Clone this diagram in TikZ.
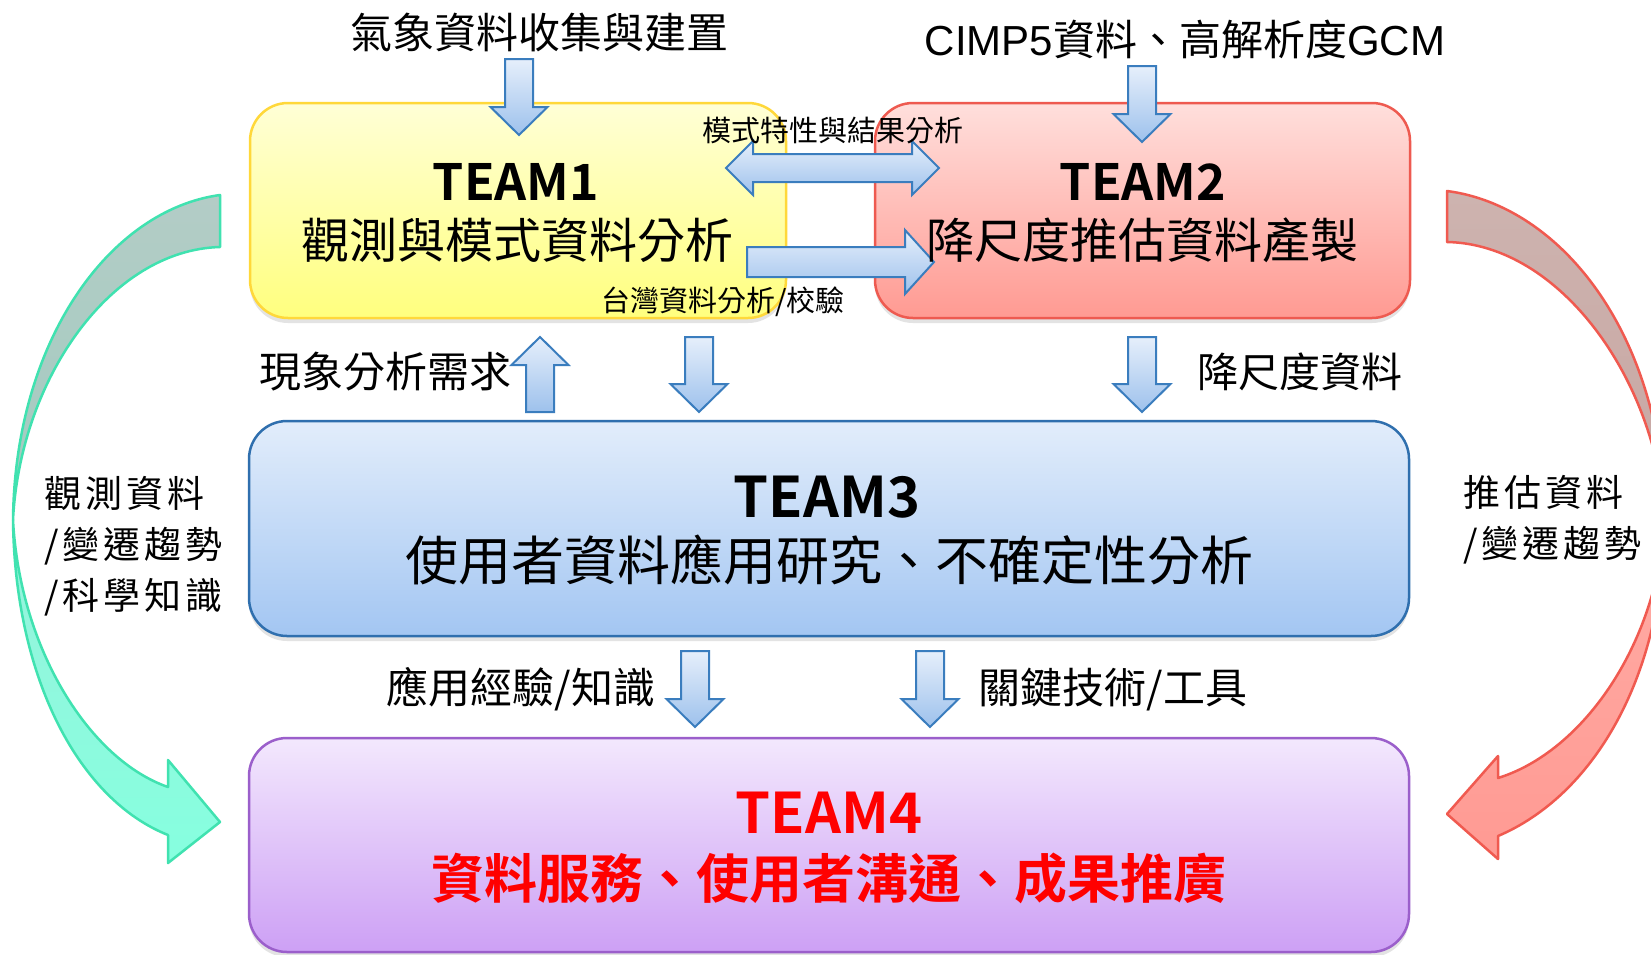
\documentclass[tikz,border=0pt]{standalone}
\usepackage{fontspec}
\setmainfont{Noto Sans CJK TC}[BoldFont={Noto Sans CJK TC Bold}]
\newfontfamily\arialf{Liberation Sans}
\newfontfamily\spacedf{Noto Sans CJK TC}[LetterSpace=11]
\usetikzlibrary{shadows}
\newcommand\myfs[1]{\fontsize{#1}{#1}\selectfont}
\definecolor{yT}{HTML}{FFFFD6}
\definecolor{yD}{HTML}{FFFF7E}
\definecolor{yB}{HTML}{FFD83A}
\definecolor{rT}{HTML}{FFDFDC}
\definecolor{rD}{HTML}{FF9A92}
\definecolor{rB}{HTML}{EE5A50}
\definecolor{bT}{HTML}{E2EDFB}
\definecolor{bD}{HTML}{A3C6F2}
\definecolor{bB}{HTML}{2F6FAE}
\definecolor{pT}{HTML}{F3E8FD}
\definecolor{pD}{HTML}{CDA0F5}
\definecolor{pB}{HTML}{9B5FCB}
\definecolor{aT}{HTML}{E6EFFB}
\definecolor{aD}{HTML}{9DC1EC}
\definecolor{aB}{HTML}{3A7DBE}
\definecolor{tB}{HTML}{40E2B0}
\definecolor{tDT}{HTML}{B3CCC6}
\definecolor{tDB}{HTML}{A2CBC0}
\definecolor{tLT}{HTML}{98F2DC}
\definecolor{tLB}{HTML}{86FFDF}
\definecolor{cB}{HTML}{F05A50}
\definecolor{cDT}{HTML}{CDB3AF}
\definecolor{cDB}{HTML}{C8A6A2}
\definecolor{cLT}{HTML}{FFACA5}
\definecolor{cLB}{HTML}{FF9A93}
\newcommand\blkdown[3]{%
  \path[blk] ({#1-14},{-#2}) -- ({#1+14},{-#2}) -- ({#1+14},{-(#3-28)}) -- ({#1+28.5},{-(#3-28)}) -- (#1,{-#3}) -- ({#1-28.5},{-(#3-28)}) -- ({#1-14},{-(#3-28)}) -- cycle;}
\newcommand\blkup[3]{%
  \path[blk] (#1,{-#2}) -- ({#1+28.5},{-(#2+28)}) -- ({#1+14},{-(#2+28)}) -- ({#1+14},{-#3}) -- ({#1-14},{-#3}) -- ({#1-14},{-(#2+28)}) -- ({#1-28.5},{-(#2+28)}) -- cycle;}
\begin{document}
\begin{tikzpicture}[x=1pt,y=1pt,
  team/.style={rounded corners=38pt, line width=2.5pt, inner sep=0pt,
    drop shadow={opacity=0.22,shadow xshift=0pt,shadow yshift=-5pt}},
  blk/.style={draw=aB, line width=2pt, top color=aT, bottom color=aD, line join=miter},
  curv/.style={line width=2.5pt, line join=round},
  lbl/.style={inner sep=0pt, text=black},
  side/.style={inner sep=0pt, text=black, align=left, anchor=west, font={\spacedf\fontsize{37}{51}\selectfont}},
]
\useasboundingbox (0,0) rectangle (1651,-954);
\fill[white] (0,0) rectangle (1651,-954);

% boxes
\node[team, draw=yB, top color=yT, bottom color=yD, minimum width=536pt, minimum height=215pt] (t1) at (518,-210.5) {};
\node[team, draw=rB, top color=rT, bottom color=rD, minimum width=535pt, minimum height=215pt] (t2) at (1142.5,-210.5) {};
\node[team, draw=bB, top color=bT, bottom color=bD, minimum width=1160pt, minimum height=215pt] (t3) at (829,-528.5) {};
\node[team, draw=pB, top color=pT, bottom color=pD, minimum width=1160pt, minimum height=214pt] (t4) at (829,-845) {};

% curved arrows
\path[curv, draw=tB, top color=tDT, bottom color=tDB] (220,-195) .. controls (110,-210) and (15,-340) .. (13,-520) .. controls (20,-380) and (110,-250) .. (220,-247) -- cycle;
\path[curv, draw=tB, top color=tLT, bottom color=tLB] (13,-520) .. controls (15,-680) and (80,-800) .. (168,-835) -- (168,-863) -- (220,-822) -- (168,-760) -- (168,-787) .. controls (90,-760) and (20,-650) .. (13,-520) -- cycle;
\path[curv, draw=cB, top color=cDT, bottom color=cDB] (1447,-191) .. controls (1562,-206) and (1663,-336) .. (1665,-520) .. controls (1657,-380) and (1560,-244) .. (1447,-242) -- cycle;
\path[curv, draw=cB, top color=cLT, bottom color=cLB] (1665,-520) .. controls (1663,-680) and (1592,-796) .. (1498,-836) -- (1498,-859) -- (1447,-814) -- (1498,-756) -- (1498,-778) .. controls (1582,-752) and (1657,-646) .. (1665,-520) -- cycle;

% block arrows
\blkdown{519}{59}{135}
\blkdown{1142}{66}{142}
\blkup{540}{337}{412}
\blkdown{699}{337}{412}
\blkdown{1142}{337}{412}
\blkdown{695}{651}{727}
\blkdown{930}{651}{727}
\path[blk] (726,-168) -- (753,-141) -- (753,-154) -- (912,-154) -- (912,-141) -- (939,-168) -- (912,-195) -- (912,-182) -- (753,-182) -- (753,-195) -- cycle;
\path[blk] (747,-247) -- (905,-247) -- (905,-230) -- (934,-262) -- (905,-294) -- (905,-277) -- (747,-277) -- cycle;

% titles
\node[lbl, font=\myfs{42}] (ttl1) at (539,-32) {氣象資料收集與建置};
\node[lbl, font=\myfs{42}] (ttl2) at (1185,-39) {{\arialf CIMP5}資料、高解析度{\arialf GCM}};

% box texts
\node[lbl, font={\bfseries\myfs{50}}] (t1h) at (516,-182) {TEAM1};
\node[lbl, font=\myfs{48}] (t1s) at (517,-240) {觀測與模式資料分析};
\node[lbl, font={\bfseries\myfs{50}}] (t2h) at (1143,-182) {TEAM2};
\node[lbl, font=\myfs{48}] (t2s) at (1142,-240) {降尺度推估資料產製};
\node[lbl, font={\bfseries\myfs{56}}] (t3h) at (827,-497) {TEAM3};
\node[lbl, font=\myfs{53}] (t3s) at (829,-560) {使用者資料應用研究、不確定性分析};
\node[lbl, text=red, font={\bfseries\myfs{56}}] (t4h) at (829,-813) {TEAM4};
\node[lbl, text=red, font={\bfseries\myfs{53}}] (t4s) at (829,-878) {資料服務、使用者溝通、成果推廣};

% arrow labels
\node[lbl, font=\myfs{29}] (l12) at (833,-131) {模式特性與結果分析};
\node[lbl, font=\myfs{29}] (l12b) at (723,-302) {台灣資料分析/校驗};
\node[lbl, font=\myfs{42}] (l31) at (385,-372) {現象分析需求};
\node[lbl, font=\myfs{41}] (l23) at (1300,-372) {降尺度資料};
\node[lbl, font=\myfs{42}] (l34a) at (521,-689) {應用經驗/知識};
\node[lbl, font=\myfs{42}] (l34b) at (1113,-689) {關鍵技術/工具};

% side texts
\node[side] (ls) at (44,-546) {觀測資料\\/變遷趨勢\\/科學知識};
\node[side] (rs) at (1463,-520) {推估資料\\/變遷趨勢};
\end{tikzpicture}
\end{document}
